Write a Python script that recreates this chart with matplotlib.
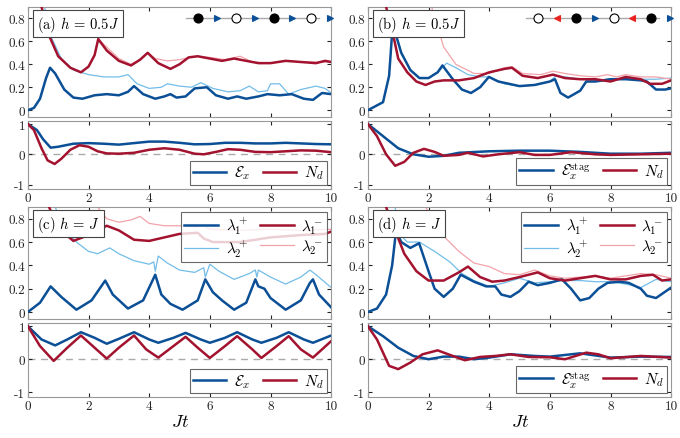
import numpy as np
import matplotlib
matplotlib.use("Agg")
import matplotlib.pyplot as plt

plt.rcParams['font.family'] = ['cmr10', 'DejaVu Serif']
plt.rcParams['mathtext.fontset'] = 'cm'
plt.rcParams['font.size'] = 10

DB, LB, DR, LR = '#0b4f96', '#72bde8', '#a3132f', '#f2a3aa'

# ---- panel (a), h = 0.5J ----
a_l1p_t = [0, .2, .4, .6, .73, .9, 1.2, 1.5, 1.8, 2.2, 2.6, 3.0, 3.3, 3.5, 3.8, 4.2, 4.5, 4.7, 4.9, 5.2, 5.5, 5.9, 6.2, 6.6, 6.9, 7.2, 7.6, 7.9, 8.3, 8.7, 9.1, 9.4, 9.7, 10]
a_l1p = [0, .02, .1, .28, .37, .32, .18, .11, .1, .13, .14, .13, .16, .21, .14, .1, .12, .14, .11, .12, .19, .2, .13, .1, .12, .1, .12, .14, .13, .14, .1, .09, .15, .14]
a_l2p_t = [.55, .8, 1.1, 1.5, 2.0, 2.5, 3.0, 3.3, 3.6, 4.0, 4.4, 4.6, 5.0, 5.4, 5.7, 6.1, 6.6, 7.0, 7.3, 7.6, 7.9, 8.0, 8.3, 8.6, 9.0, 9.5, 9.8, 10]
a_l2p = [.9, .62, .45, .35, .31, .29, .29, .31, .23, .19, .2, .23, .21, .2, .24, .19, .16, .17, .21, .16, .17, .23, .23, .14, .18, .21, .19, .15]
a_l1m_t = [.45, .7, 1.0, 1.4, 1.75, 2.0, 2.2, 2.32, 2.6, 3.0, 3.4, 3.7, 3.95, 4.3, 4.7, 5.0, 5.3, 5.6, 6.0, 6.4, 6.8, 7.2, 7.6, 8.0, 8.5, 9.0, 9.5, 9.8, 10]
a_l1m = [.9, .65, .47, .37, .33, .38, .48, .62, .52, .43, .39, .44, .5, .41, .36, .4, .46, .47, .45, .43, .45, .43, .41, .41, .43, .42, .41, .43, .42]
a_l2m_t = [2.32, 2.6, 3.0, 3.4, 3.7, 3.95, 4.2, 4.6, 5.0, 5.5, 6.0, 6.5, 7.0, 7.4, 8.0, 8.5, 9.0, 9.5, 10]
a_l2m = [.62, .55, .45, .4, .44, .5, .45, .43, .44, .47, .46, .44, .47, .42, .41, .43, .42, .42, .42]
a_ex_t = [0, .3, .5, .75, 1.0, 1.5, 2, 2.5, 3, 3.5, 4, 4.5, 5, 5.5, 6, 6.5, 7, 7.5, 8, 8.5, 9, 9.5, 10]
a_ex = [1, .8, .5, .22, .25, .35, .37, .35, .32, .37, .42, .42, .38, .33, .34, .38, .38, .36, .36, .38, .36, .34, .33]
a_nd_t = [0, .2, .45, .65, .88, 1.1, 1.4, 1.7, 2.0, 2.3, 2.6, 3, 3.5, 4, 4.5, 5, 5.5, 5.8, 6.2, 6.6, 7, 7.5, 8, 8.5, 9, 9.5, 10]
a_nd = [1, .8, .2, -.2, -.32, -.15, .15, .3, .25, .1, .03, .02, .05, .15, .2, .15, .02, 0, .08, .17, .15, .08, .07, .1, .13, .12, .07]

# ---- panel (b), h = 0.5J ----
b_l1p_t = [0, .5, .7, .82, 1.1, 1.4, 1.7, 2.0, 2.3, 2.46, 2.8, 3.1, 3.4, 3.7, 3.99, 4.3, 5.0, 5.5, 6.0, 6.17, 6.35, 6.6, 7.0, 7.2, 7.5, 8.0, 8.5, 9.0, 9.2, 9.5, 9.8, 10]
b_l1p = [0, .07, .3, .75, .5, .35, .28, .28, .33, .39, .27, .18, .15, .2, .29, .25, .21, .22, .25, .27, .15, .11, .17, .25, .25, .27, .27, .26, .25, .18, .18, .19]
b_l2p_t = [.82, 1.1, 1.4, 1.7, 2.0, 2.3, 2.6, 2.9, 3.3, 3.7, 4.0, 4.5, 5.0, 5.5, 6.0, 6.2, 6.5, 7.0, 7.5, 8.0, 8.5, 9.0, 9.5, 10]
b_l2p = [.75, .5, .35, .28, .28, .33, .41, .37, .31, .29, .29, .23, .21, .22, .25, .3, .29, .27, .26, .27, .28, .27, .27, .28]
b_l1m_t = [.6, .8, 1.0, 1.3, 1.6, 1.9, 2.2, 2.5, 3.0, 3.5, 4.0, 4.5, 4.75, 5.1, 5.6, 6.1, 6.5, 7.0, 7.5, 8.0, 8.5, 9.0, 9.3, 9.7, 10]
b_l1m = [.9, .7, .45, .33, .25, .22, .25, .26, .26, .28, .33, .36, .37, .3, .28, .31, .28, .27, .27, .25, .29, .27, .23, .23, .26]
b_l2m_t = [2.1, 2.5, 2.9, 3.5, 4.0, 4.5, 4.75, 5.1, 5.7, 6.1, 6.5, 7.0, 7.5, 7.9, 8.2, 8.5, 9.0, 9.5, 10]
b_l2m = [.9, .55, .4, .32, .32, .37, .38, .32, .31, .34, .32, .3, .29, .31, .29, .31, .29, .29, .27]
b_ex_t = [0, .5, 1, 1.5, 2, 2.5, 3, 4, 5, 6, 7, 8, 9, 10]
b_ex = [1, .6, .2, 0, -.08, -.05, .05, .1, .12, .12, .08, .02, .02, .05]
b_nd_t = [0, .3, .6, .9, 1.2, 1.5, 1.85, 2.2, 2.5, 3, 3.3, 3.8, 4.3, 5, 5.5, 6, 6.7, 7.5, 8, 9, 10]
b_nd = [1, .6, 0, -.38, -.25, .05, .18, .08, -.05, -.02, .05, -.07, 0, .07, -.02, -.02, .07, 0, -.02, 0, .02]

# ---- panel (c), h = J ----
c_l1p_t = [0, .4, .75, 1.1, 1.6, 2.1, 2.55, 2.8, 3.3, 3.8, 4.2, 4.4, 4.7, 5.1, 5.6, 5.85, 6.1, 6.4, 6.8, 7.2, 7.5, 7.6, 7.8, 8.0, 8.5, 9.0, 9.3, 9.4, 9.6, 10]
c_l1p = [0, .08, .22, .13, .02, .1, .27, .15, .03, .1, .32, .15, .07, .02, .1, .28, .17, .1, .02, .08, .28, .22, .2, .12, .02, .1, .25, .28, .15, .04]
c_l2p_t = [.9, 1.2, 1.6, 2.0, 2.3, 2.7, 3.0, 3.5, 4.0, 4.15, 4.2, 4.3, 4.6, 5.0, 5.5, 5.8, 5.85, 6.0, 6.3, 6.8, 7.3, 7.5, 7.55, 7.6, 8.0, 8.5, 9.0, 9.3, 9.5, 10]
c_l2p = [.9, .72, .6, .52, .5, .55, .5, .44, .41, .43, .35, .48, .42, .36, .34, .38, .3, .41, .35, .28, .33, .36, .3, .36, .3, .24, .3, .36, .32, .21]
c_l1m_t = [.7, 1.0, 1.5, 2.0, 2.6, 3.0, 3.5, 4.0, 4.5, 5.0, 5.6, 5.8, 6.1, 7, 8, 9, 9.8, 10]
c_l1m = [.9, .72, .61, .66, .74, .7, .62, .61, .64, .67, .68, .63, .6, .6, .64, .66, .67, .69]
c_l2m_t = [2.3, 2.6, 3.0, 3.4, 3.7, 4.0, 4.5, 5.0, 5.5, 5.8, 6.0, 7, 8, 9, 10]
c_l2m = [.9, .8, .77, .79, .82, .76, .74, .74, .73, .74, .71, .7, .71, .7, .71]
c_ex_t = [0, .45, .9, 1.3, 1.75, 2.2, 2.6, 3.0, 3.5, 4.0, 4.3, 4.8, 5.2, 5.7, 6.0, 6.5, 6.9, 7.4, 7.7, 8.2, 8.6, 9.1, 9.4, 10]
c_ex = [1, .6, .42, .6, .82, .65, .47, .62, .82, .6, .5, .65, .8, .6, .5, .65, .82, .6, .5, .65, .82, .6, .5, .72]
c_nd_t = [0, .4, .85, 1.3, 1.75, 2.2, 2.6, 3.0, 3.5, 3.9, 4.3, 4.8, 5.2, 5.6, 6.0, 6.5, 6.9, 7.4, 7.7, 8.2, 8.6, 9.0, 9.4, 10]
c_nd = [1, .4, -.05, .35, .72, .35, .02, .35, .72, .3, .05, .4, .68, .35, .04, .4, .7, .3, .04, .4, .7, .3, .05, .55]

# ---- panel (d), h = J ----
d_l1p_t = [0, .3, .6, .8, .93, 1.1, 1.4, 1.69, 2.0, 2.2, 2.5, 2.8, 3.06, 3.5, 3.9, 4.2, 4.4, 4.7, 5.0, 5.3, 5.6, 6.0, 6.4, 6.7, 7.0, 7.3, 7.6, 7.9, 8.3, 8.6, 9.0, 9.2, 9.5, 10]
d_l1p = [0, .03, .15, .4, .7, .6, .55, .59, .35, .2, .13, .2, .32, .26, .22, .22, .15, .13, .18, .26, .23, .25, .28, .2, .1, .12, .2, .25, .26, .25, .2, .14, .12, .21]
d_l2p_t = [.9, 1.0, 1.3, 1.7, 2.2, 2.7, 3.1, 3.5, 4.0, 4.5, 5.0, 5.5, 6.0, 6.5, 7.0, 7.5, 8.0, 8.5, 9.0, 9.5, 10]
d_l2p = [.9, .68, .6, .6, .52, .43, .33, .27, .22, .25, .29, .25, .26, .27, .27, .26, .26, .24, .21, .28, .26]
d_l1m_t = [.6, .9, 1.2, 1.6, 2.0, 2.5, 3.0, 3.3, 3.7, 4.1, 4.5, 5.0, 5.6, 6.0, 6.5, 7.0, 7.5, 8.0, 8.5, 9.0, 9.4, 9.7, 10]
d_l1m = [.9, .7, .5, .35, .27, .27, .34, .39, .3, .26, .27, .3, .34, .29, .27, .29, .31, .28, .28, .31, .32, .27, .28]
d_l2m_t = [1.9, 2.5, 3.0, 3.5, 4.0, 4.5, 5.0, 5.5, 6.0, 6.5, 7.0, 7.5, 8.0, 8.5, 9.0, 9.5, 10]
d_l2m = [.9, .65, .52, .42, .39, .33, .32, .36, .31, .29, .3, .31, .29, .31, .33, .32, .29]
d_ex_t = [0, .5, 1, 1.5, 2, 2.5, 3, 3.5, 4, 4.7, 5.5, 6, 7, 8, 9, 10]
d_ex = [1, .7, .35, .1, 0, .08, .08, 0, .05, .15, .1, .08, .18, .05, .08, .07]
d_nd_t = [0, .3, .7, 1.0, 1.4, 1.8, 2.3, 2.8, 3.2, 3.7, 4.2, 4.7, 5.3, 6.0, 6.5, 7.2, 7.6, 8.0, 9, 10]
d_nd = [1, .6, -.2, -.3, -.1, .15, .27, .1, -.03, .07, .1, .15, .07, .06, 0, .2, .15, .03, .1, .05]

fig = plt.figure(figsize=(6.8, 4.39), dpi=100)
L = [0.041, 0.541]
W = 0.446
tops = [(0.731, 0.251), (0.271, 0.255)]
bots = [(0.567, 0.155), (0.093, 0.169)]

panels = [
    ('(a)', '$h\\,=\\,0.5J$', (a_l1p_t, a_l1p, a_l2p_t, a_l2p, a_l1m_t, a_l1m, a_l2m_t, a_l2m), (a_ex_t, a_ex, a_nd_t, a_nd), r'$\mathcal{E}_x$', 0, 0),
    ('(b)', '$h\\,=\\,0.5J$', (b_l1p_t, b_l1p, b_l2p_t, b_l2p, b_l1m_t, b_l1m, b_l2m_t, b_l2m), (b_ex_t, b_ex, b_nd_t, b_nd), r'$\mathcal{E}_x^{\rm stag}$', 0, 1),
    ('(c)', '$h\\,=\\,J$', (c_l1p_t, c_l1p, c_l2p_t, c_l2p, c_l1m_t, c_l1m, c_l2m_t, c_l2m), (c_ex_t, c_ex, c_nd_t, c_nd), r'$\mathcal{E}_x$', 1, 0),
    ('(d)', '$h\\,=\\,J$', (d_l1p_t, d_l1p, d_l2p_t, d_l2p, d_l1m_t, d_l1m, d_l2m_t, d_l2m), (d_ex_t, d_ex, d_nd_t, d_nd), r'$\mathcal{E}_x^{\rm stag}$', 1, 1),
]

def style(ax):
    ax.set_xlim(0, 10)
    ax.set_xticks([0, 2, 4, 6, 8, 10])
    ax.set_xticklabels(['0', '2', '4', '6', '8', '10'])
    ax.tick_params(direction='in', top=True, right=True, length=3, labelsize=9.5,
                   pad=2, colors='#222222')
    for s in ax.spines.values():
        s.set_color('#999999')

for lab, htxt, top, bot, exlab, row, col in panels:
    ax = fig.add_axes([L[col], tops[row][0], W, tops[row][1]])
    t1, y1, t2, y2, t3, y3, t4, y4 = top
    ax.plot(t2, y2, color=LB, lw=0.9, label=r'$\lambda_2^+$', zorder=2)
    ax.plot(t4, y4, color=LR, lw=0.9, label=r'$\lambda_2^-$', zorder=2)
    ax.plot(t1, y1, color=DB, lw=1.8, label=r'$\lambda_1^+$', zorder=3)
    ax.plot(t3, y3, color=DR, lw=1.8, label=r'$\lambda_1^-$', zorder=3)
    style(ax)
    ax.set_ylim(-0.06, 0.9)
    ax.set_yticks([0, 0.2, 0.4, 0.6, 0.8])
    ax.set_yticklabels(['0', '0.2', '0.4', '0.6', '0.8'])
    ax.tick_params(labelbottom=False)
    ax.text(0.03, 0.94, lab + ' ' + htxt, transform=ax.transAxes, va='top', ha='left',
            fontsize=10.5, zorder=5,
            bbox=dict(boxstyle='square,pad=0.25', fc='white', ec='#444444', lw=0.8))
    if row == 1:
        h = ax.get_legend_handles_labels()[0]
        hh = [h[2], h[0], h[3], h[1]]
        ll = [r'$\lambda_1^+$', r'$\lambda_2^+$', r'$\lambda_1^-$', r'$\lambda_2^-$']
        leg = ax.legend(hh, ll, ncol=2, loc='upper right', fancybox=False, edgecolor='#444444',
                        fontsize=11, borderpad=0.2, labelspacing=0.1, handlelength=2.2,
                        columnspacing=0.8, handletextpad=0.5, borderaxespad=0.3)
        leg.get_frame().set_linewidth(0.8)
        leg.set_zorder(6)
    else:
        # spin-chain sketch
        xs = 0.56 + 0.0625 * np.arange(8)
        ax.plot([0.52, 0.96], [0.9, 0.9], transform=ax.transAxes, color='#aaaaaa', lw=1, zorder=4)
        if col == 0:
            syms = [('o', 'k', 'k'), ('>', DB, DB), ('o', 'w', 'k'), ('>', DB, DB),
                    ('o', 'k', 'k'), ('>', DB, DB), ('o', 'w', 'k'), ('>', DB, DB)]
        else:
            syms = [('o', 'w', 'k'), ('<', '#e8231f', '#e8231f'), ('o', 'k', 'k'), ('>', DB, DB),
                    ('o', 'w', 'k'), ('<', '#e8231f', '#e8231f'), ('o', 'k', 'k'), ('>', DB, DB)]
        for x, (m, fc, ec) in zip(xs, syms):
            ax.plot([x], [0.9], marker=m, transform=ax.transAxes, ms=6.5 if m == 'o' else 5,
                    mfc=fc, mec=ec, mew=0.8, ls='none', zorder=5, clip_on=False)

    bx = fig.add_axes([L[col], bots[row][0], W, bots[row][1]])
    te, ye, tn, yn = bot
    bx.axhline(0, color='#aaaaaa', ls='--', lw=1, dashes=(5, 4), zorder=1)
    bx.plot(te, ye, color=DB, lw=1.8, label=exlab, zorder=3)
    bx.plot(tn, yn, color=DR, lw=1.8, label=r'$N_d$', zorder=3)
    style(bx)
    bx.set_ylim(-1.15, 1.1)
    bx.set_yticks([-1, 0, 1])
    bx.set_yticklabels(['-1', '0', '1'])
    leg = bx.legend(ncol=2, loc='lower right', fancybox=False, edgecolor='#444444', fontsize=11,
                    borderpad=0.2, handlelength=2.2, columnspacing=0.8, handletextpad=0.5,
                    borderaxespad=0.3)
    leg.get_frame().set_linewidth(0.8)
    if row == 1:
        bx.set_xlabel('$Jt$', fontsize=13, labelpad=1)

fig.savefig('out.png', dpi=100)
